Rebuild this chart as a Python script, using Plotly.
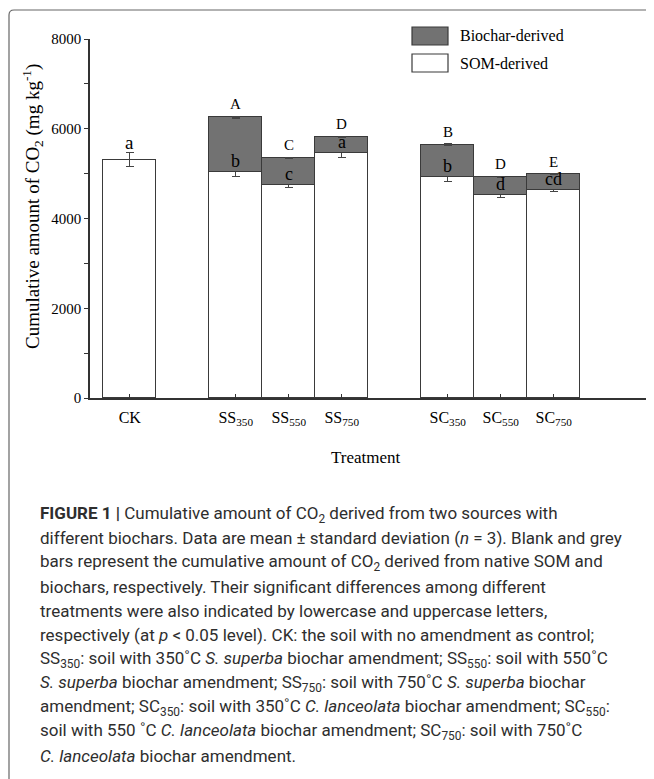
import plotly.graph_objects as go

# ---------------- data ----------------
treatments = ["CK", "SS<sub>350</sub>", "SS<sub>550</sub>", "SS<sub>750</sub>",
              "SC<sub>350</sub>", "SC<sub>550</sub>", "SC<sub>750</sub>"]
som_derived = [5310, 5030, 4740, 5450, 4930, 4520, 4630]
som_err = [150, 85, 50, 80, 110, 55, 20]
biochar_derived = [None, 1230, 610, 370, 715, 405, 355]
biochar_err = [None, 20, 15, 15, 15, 15, 12]
lower_letters = ["a", "b", "c", "a", "b", "d", "cd"]
upper_letters = ["", "A", "C", "D", "B", "D", "E"]
y_ticks = [0, 2000, 4000, 6000, 8000]

caption_lines = [
    "<b>FIGURE 1 |</b> Cumulative amount of CO<sub>2</sub> derived from two sources with",
    "different biochars. Data are mean ± standard deviation (<i>n</i> = 3). Blank and grey",
    "bars represent the cumulative amount of CO<sub>2</sub> derived from native SOM and",
    "biochars, respectively. Their significant differences among different",
    "treatments were also indicated by lowercase and uppercase letters,",
    "respectively (at <i>p</i> &lt; 0.05 level). CK: the soil with no amendment as control;",
    "SS<sub>350</sub>: soil with 350˚C <i>S. superba</i> biochar amendment; SS<sub>550</sub>: soil with 550˚C",
    "<i>S. superba</i> biochar amendment; SS<sub>750</sub>: soil with 750˚C <i>S. superba</i> biochar",
    "amendment; SC<sub>350</sub>: soil with 350˚C <i>C. lanceolata</i> biochar amendment; SC<sub>550</sub>:",
    "soil with 550 ˚C <i>C. lanceolata</i> biochar amendment; SC<sub>750</sub>: soil with 750˚C",
    "<i>C. lanceolata</i> biochar amendment.",
]

# ---------------- layout constants ----------------
OFF = 8                                  # page body margin
W, H = 654 - OFF, 779 - OFF
L, R, T, B = 90, 648, 39, 398            # plot area in page pixels
slot = [0, 2, 3, 4, 6, 7, 8]             # horizontal slot of each bar
SERIF = "Liberation Serif"
SANS = "Roboto"
EDGE = "#3a3a3a"
GREY = "#727272"


def px(x):
    return (x - L) / (R - L)


def py(y):
    return (B - y) / (B - T)


fig = go.Figure()
fig.add_trace(go.Bar(
    x=slot, y=som_derived, name="SOM-derived",
    marker=dict(color="white", line=dict(color=EDGE, width=1.5)),
    error_y=dict(type="data", array=som_err, color="#444", thickness=1, width=4),
    width=1, showlegend=False))
fig.add_trace(go.Bar(
    x=slot, y=biochar_derived, name="Biochar-derived",
    marker=dict(color=GREY, line=dict(color=EDGE, width=1.5)),
    error_y=dict(type="data", array=biochar_err, color="#444", thickness=1.2, width=4),
    width=1, showlegend=False))

ann = []
for i, s in enumerate(slot):
    if biochar_derived[i] is None:
        ann.append(dict(x=s, y=som_derived[i] + som_err[i], text=lower_letters[i],
                        yanchor="bottom", showarrow=False, yshift=-2,
                        font=dict(family=SERIF, size=19, color="black")))
    else:
        ann.append(dict(x=s, y=som_derived[i], text=lower_letters[i],
                        yanchor="bottom", showarrow=False, yshift=-1,
                        font=dict(family=SERIF, size=18, color="black")))
        top = som_derived[i] + biochar_derived[i] + biochar_err[i]
        ann.append(dict(x=s, y=top, text=upper_letters[i],
                        yanchor="bottom", showarrow=False, yshift=2,
                        font=dict(family=SERIF, size=15, color="black")))

# axis titles
ann.append(dict(xref="paper", yref="paper", x=px(32), y=py(207),
                text="Cumulative amount of CO<sub>2</sub> (mg kg<sup>-1</sup>)",
                textangle=-90, showarrow=False, xanchor="center", yanchor="middle",
                font=dict(family=SERIF, size=19, color="black")))
ann.append(dict(xref="paper", yref="paper", x=px(366), y=py(457),
                text="Treatment", showarrow=False, xanchor="center", yanchor="middle",
                font=dict(family=SERIF, size=17, color="black")))

# legend
shapes = []
legend_items = [("Biochar-derived", GREY, 27, 45), ("SOM-derived", "white", 54, 72)]
for name, col, y0, y1 in legend_items:
    shapes.append(dict(type="rect", xref="paper", yref="paper",
                       x0=px(412), x1=px(448), y0=py(y1), y1=py(y0),
                       fillcolor=col, line=dict(color=EDGE, width=1.2)))
    ann.append(dict(xref="paper", yref="paper", x=px(458), y=py((y0 + y1) / 2),
                    text=name, showarrow=False, xanchor="left", yanchor="middle",
                    font=dict(family=SERIF, size=16, color="black")))

# caption
for k, line in enumerate(caption_lines):
    ann.append(dict(xref="paper", yref="paper", x=px(38), y=py(514 + 24.2 * k),
                    text=line, showarrow=False, xanchor="left", yanchor="middle",
                    font=dict(family=SANS, size=17, color="#2e2e2e")))

# rounded frame (top-left corner visible)
shapes.append(dict(type="path", xref="paper", yref="paper",
                   path=(f"M {px(9)} {py(800)} L {px(9)} {py(15)} "
                         f"Q {px(9)} {py(10)} {px(14)} {py(10)} L {px(680)} {py(10)}"),
                   line=dict(color="#666", width=1.2)))

fig.update_layout(
    width=W, height=H,
    margin=dict(l=L - OFF, r=W - (R - OFF), t=T - OFF, b=H - (B - OFF), autoexpand=False),
    barmode="stack", bargap=0,
    plot_bgcolor="white", paper_bgcolor="white",
    annotations=ann, shapes=shapes,
    font=dict(family=SERIF, color="black"),
)
fig.update_xaxes(range=[-0.75, 9.78], tickvals=slot, ticktext=treatments,
                 showline=True, linecolor="#333", linewidth=1.5,
                 ticks="inside", ticklen=4, tickcolor="#333", tickwidth=1.2,
                 showgrid=False, zeroline=False, ticklabelstandoff=4,
                 tickfont=dict(family=SERIF, size=16, color="black"))
fig.update_yaxes(range=[0, 8000], tickvals=y_ticks,
                 showline=True, linecolor="#333", linewidth=1.5,
                 ticks="outside", ticklen=4, tickcolor="#333", tickwidth=1.2,
                 minor=dict(dtick=1000, ticks="outside", ticklen=4, tickcolor="#333"),
                 showgrid=False, zeroline=False,
                 tickfont=dict(family=SERIF, size=15, color="black"))

fig.write_html("out.html")
